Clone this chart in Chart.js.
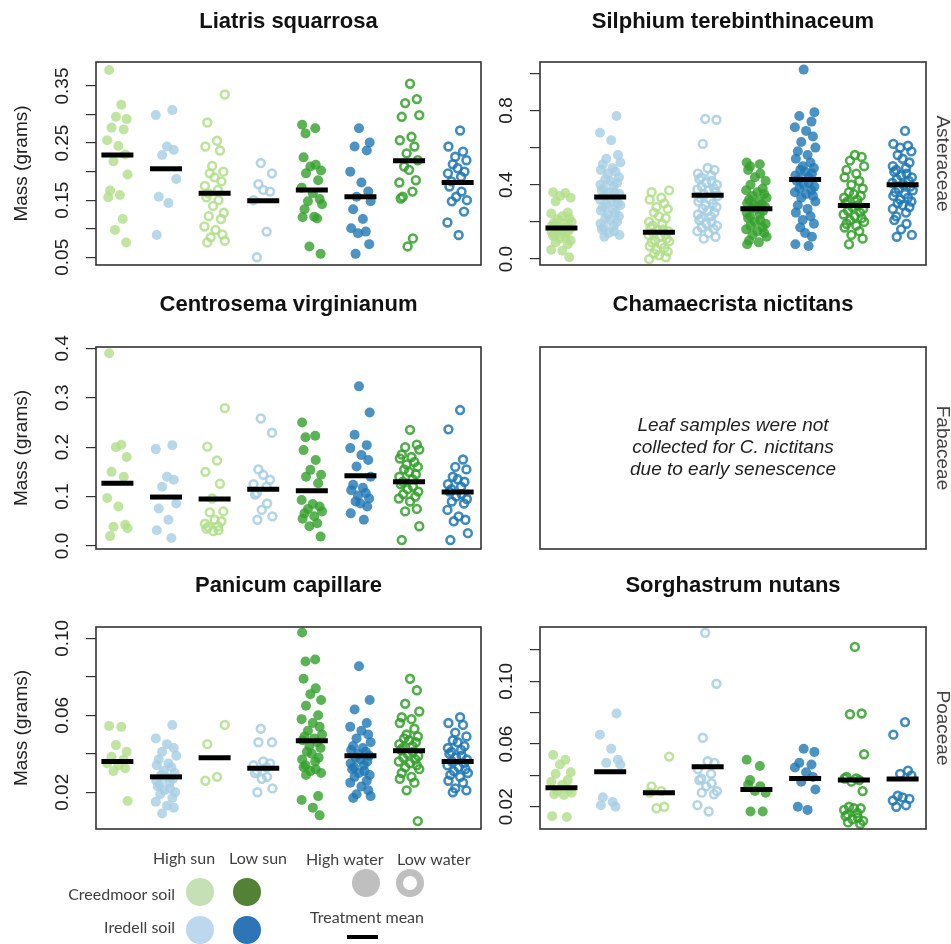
<!DOCTYPE html>
<html>
<head>
<meta charset="utf-8">
<script src="https://cdn.jsdelivr.net/npm/chart.js@4.4.1/dist/chart.umd.min.js"></script>
<style>
  body { margin: 0; background: #fff; width: 951px; height: 944px; position: relative; overflow: hidden; }
  canvas { position: absolute; left: 0; top: 0; }
</style>
</head>
<body>
<canvas id="legend" width="951" height="944"></canvas>
<script>
// treatment groups, in plotting order
const groupNames = [
  "Creedmoor, high sun, high water", "Iredell, high sun, high water",
  "Creedmoor, high sun, low water", "Iredell, high sun, low water",
  "Creedmoor, low sun, high water", "Iredell, low sun, high water",
  "Creedmoor, low sun, low water", "Iredell, low sun, low water"
];
const groupX = [1, 2, 3, 4, 5, 6, 7, 8];

// ---- Liatris squarrosa (Asteraceae) ----
const liatrisMass = [
  [0.378, 0.317, 0.296, 0.292, 0.277, 0.274, 0.255, 0.245, 0.23, 0.218, 0.195, 0.167, 0.159, 0.155, 0.117, 0.098, 0.076],
  [0.308, 0.299, 0.244, 0.238, 0.229, 0.187, 0.156, 0.145, 0.089],
  [0.335, 0.286, 0.254, 0.244, 0.237, 0.21, 0.2, 0.197, 0.19, 0.183, 0.175, 0.168, 0.162, 0.155, 0.15, 0.14, 0.128, 0.122, 0.117, 0.104, 0.098, 0.09, 0.085, 0.079, 0.076],
  [0.215, 0.197, 0.178, 0.168, 0.165, 0.15, 0.095, 0.05],
  [0.282, 0.276, 0.267, 0.225, 0.212, 0.209, 0.202, 0.197, 0.185, 0.172, 0.162, 0.152, 0.148, 0.143, 0.134, 0.121, 0.12, 0.118, 0.069, 0.056],
  [0.276, 0.251, 0.244, 0.237, 0.2, 0.181, 0.165, 0.156, 0.148, 0.134, 0.117, 0.101, 0.095, 0.092, 0.073, 0.056],
  [0.354, 0.327, 0.32, 0.299, 0.296, 0.261, 0.255, 0.244, 0.232, 0.22, 0.209, 0.203, 0.185, 0.181, 0.165, 0.156, 0.153, 0.083, 0.069],
  [0.272, 0.244, 0.235, 0.226, 0.22, 0.213, 0.206, 0.2, 0.197, 0.191, 0.183, 0.174, 0.165, 0.156, 0.15, 0.148, 0.13, 0.111, 0.089]
];
const liatrisMean = [0.229, 0.205, 0.162, 0.149, 0.168, 0.156, 0.219, 0.181];
const liatrisTicks = [0.05, 0.10, 0.15, 0.20, 0.25, 0.30, 0.35];
const liatrisTickLabels = ["0.05", "", "0.15", "", "0.25", "", "0.35"];

// ---- Silphium terebinthinaceum (Asteraceae) ----
const silphiumMass = [
  [0.36, 0.355, 0.34, 0.33, 0.31, 0.25, 0.245, 0.23, 0.22, 0.215, 0.2, 0.195, 0.19, 0.18, 0.175, 0.17, 0.165, 0.16, 0.155, 0.15, 0.145, 0.14, 0.13, 0.125, 0.12, 0.11, 0.1, 0.09, 0.08, 0.05, 0.045, 0.01],
  [0.77, 0.68, 0.64, 0.56, 0.54, 0.52, 0.51, 0.49, 0.48, 0.47, 0.46, 0.44, 0.43, 0.42, 0.41, 0.4, 0.39, 0.38, 0.37, 0.36, 0.355, 0.35, 0.34, 0.33, 0.32, 0.31, 0.3, 0.295, 0.29, 0.28, 0.27, 0.26, 0.25, 0.24, 0.23, 0.22, 0.21, 0.2, 0.19, 0.18, 0.17, 0.16, 0.15, 0.14, 0.13, 0.12],
  [0.37, 0.36, 0.33, 0.32, 0.3, 0.28, 0.27, 0.25, 0.23, 0.22, 0.2, 0.19, 0.18, 0.17, 0.16, 0.155, 0.15, 0.14, 0.135, 0.13, 0.12, 0.11, 0.1, 0.095, 0.09, 0.08, 0.07, 0.06, 0.05, 0.04, 0.03, 0.02, 0.01, 0.0],
  [0.755, 0.75, 0.62, 0.49, 0.48, 0.46, 0.45, 0.44, 0.43, 0.42, 0.41, 0.4, 0.39, 0.38, 0.375, 0.37, 0.36, 0.35, 0.34, 0.33, 0.32, 0.31, 0.3, 0.29, 0.28, 0.27, 0.26, 0.25, 0.24, 0.23, 0.22, 0.21, 0.2, 0.19, 0.18, 0.17, 0.16, 0.15, 0.14, 0.12, 0.11],
  [0.52, 0.51, 0.5, 0.48, 0.46, 0.44, 0.42, 0.4, 0.38, 0.37, 0.36, 0.35, 0.34, 0.33, 0.32, 0.31, 0.3, 0.295, 0.29, 0.28, 0.275, 0.27, 0.26, 0.25, 0.24, 0.23, 0.22, 0.21, 0.2, 0.19, 0.18, 0.17, 0.16, 0.15, 0.14, 0.13, 0.12, 0.1, 0.09, 0.08],
  [1.02, 0.79, 0.77, 0.74, 0.71, 0.69, 0.66, 0.63, 0.6, 0.58, 0.56, 0.54, 0.52, 0.5, 0.49, 0.48, 0.47, 0.46, 0.45, 0.44, 0.43, 0.42, 0.41, 0.4, 0.39, 0.38, 0.37, 0.36, 0.35, 0.34, 0.33, 0.31, 0.29, 0.27, 0.25, 0.23, 0.21, 0.19, 0.17, 0.14, 0.12, 0.08, 0.07],
  [0.56, 0.55, 0.53, 0.5, 0.48, 0.46, 0.44, 0.42, 0.4, 0.38, 0.36, 0.35, 0.34, 0.33, 0.32, 0.31, 0.3, 0.29, 0.28, 0.27, 0.26, 0.25, 0.24, 0.23, 0.22, 0.21, 0.2, 0.19, 0.18, 0.17, 0.15, 0.13, 0.11, 0.08],
  [0.69, 0.62, 0.61, 0.6, 0.58, 0.56, 0.54, 0.52, 0.5, 0.49, 0.48, 0.47, 0.46, 0.45, 0.44, 0.43, 0.42, 0.41, 0.4, 0.39, 0.38, 0.37, 0.36, 0.35, 0.34, 0.33, 0.32, 0.31, 0.3, 0.29, 0.28, 0.27, 0.25, 0.23, 0.21, 0.19, 0.16, 0.13, 0.12]
];
const silphiumMean = [0.167, 0.334, 0.145, 0.343, 0.271, 0.429, 0.289, 0.40];
const silphiumTicks = [0.0, 0.2, 0.4, 0.6, 0.8, 1.0];
const silphiumTickLabels = ["0.0", "", "0.4", "", "0.8", ""];

// ---- Centrosema virginianum (Fabaceae) ----
const centrosemaMass = [
  [0.39, 0.205, 0.2, 0.18, 0.15, 0.14, 0.097, 0.08, 0.043, 0.039, 0.036, 0.02],
  [0.204, 0.196, 0.14, 0.134, 0.12, 0.086, 0.076, 0.053, 0.032, 0.016],
  [0.279, 0.201, 0.173, 0.15, 0.126, 0.096, 0.07, 0.068, 0.053, 0.05, 0.045, 0.04, 0.039, 0.035, 0.032, 0.03],
  [0.258, 0.229, 0.155, 0.144, 0.134, 0.125, 0.12, 0.107, 0.104, 0.086, 0.073, 0.06, 0.053],
  [0.25, 0.223, 0.22, 0.194, 0.174, 0.154, 0.144, 0.14, 0.127, 0.093, 0.085, 0.08, 0.075, 0.07, 0.066, 0.06, 0.055, 0.046, 0.04, 0.019],
  [0.323, 0.27, 0.225, 0.204, 0.198, 0.184, 0.174, 0.161, 0.14, 0.124, 0.118, 0.113, 0.107, 0.102, 0.096, 0.09, 0.086, 0.08, 0.066, 0.053],
  [0.235, 0.205, 0.2, 0.195, 0.185, 0.18, 0.177, 0.17, 0.165, 0.16, 0.155, 0.15, 0.145, 0.14, 0.135, 0.13, 0.125, 0.12, 0.115, 0.11, 0.105, 0.1, 0.096, 0.09, 0.075, 0.07, 0.04, 0.012],
  [0.275, 0.236, 0.175, 0.16, 0.155, 0.14, 0.135, 0.13, 0.125, 0.12, 0.115, 0.11, 0.105, 0.1, 0.095, 0.09, 0.086, 0.073, 0.06, 0.053, 0.05, 0.026, 0.012]
];
const centrosemaMean = [0.127, 0.099, 0.095, 0.115, 0.112, 0.142, 0.13, 0.109];
const centrosemaTicks = [0.0, 0.1, 0.2, 0.3, 0.4];
const centrosemaTickLabels = ["0.0", "0.1", "0.2", "0.3", "0.4"];

// ---- Panicum capillare (Poaceae) ----
const panicumMass = [
  [0.0545, 0.054, 0.0445, 0.041, 0.0385, 0.037, 0.035, 0.034, 0.0325, 0.031, 0.0155],
  [0.055, 0.048, 0.045, 0.043, 0.041, 0.039, 0.037, 0.035, 0.034, 0.033, 0.031, 0.03, 0.029, 0.028, 0.027, 0.026, 0.025, 0.024, 0.023, 0.022, 0.021, 0.02, 0.019, 0.017, 0.015, 0.013, 0.012, 0.009],
  [0.055, 0.045, 0.028, 0.026],
  [0.053, 0.046, 0.046, 0.036, 0.035, 0.034, 0.033, 0.031, 0.03, 0.028, 0.027, 0.022, 0.02],
  [0.103, 0.089, 0.088, 0.079, 0.074, 0.071, 0.068, 0.065, 0.06, 0.058, 0.056, 0.054, 0.052, 0.05, 0.049, 0.048, 0.047, 0.046, 0.044, 0.043, 0.041, 0.04, 0.038, 0.037, 0.036, 0.034, 0.033, 0.032, 0.031, 0.03, 0.029, 0.018, 0.016, 0.012, 0.008],
  [0.0855, 0.068, 0.063, 0.056, 0.054, 0.052, 0.05, 0.048, 0.046, 0.044, 0.043, 0.042, 0.041, 0.04, 0.039, 0.038, 0.037, 0.036, 0.035, 0.034, 0.033, 0.032, 0.031, 0.03, 0.029, 0.028, 0.026, 0.025, 0.023, 0.021, 0.019, 0.018, 0.017],
  [0.079, 0.073, 0.066, 0.062, 0.059, 0.058, 0.056, 0.053, 0.05, 0.049, 0.048, 0.047, 0.046, 0.045, 0.044, 0.043, 0.042, 0.041, 0.04, 0.039, 0.038, 0.037, 0.036, 0.035, 0.034, 0.033, 0.032, 0.03, 0.028, 0.027, 0.025, 0.021, 0.005],
  [0.059, 0.056, 0.055, 0.051, 0.049, 0.047, 0.046, 0.044, 0.043, 0.042, 0.041, 0.04, 0.039, 0.038, 0.037, 0.036, 0.035, 0.034, 0.033, 0.032, 0.031, 0.03, 0.029, 0.028, 0.026, 0.025, 0.022, 0.021, 0.02]
];
const panicumMean = [0.036, 0.028, 0.038, 0.0325, 0.0468, 0.039, 0.0416, 0.036];
const panicumTicks = [0.02, 0.04, 0.06, 0.08, 0.10];
const panicumTickLabels = ["0.02", "", "0.06", "", "0.10"];

// ---- Sorghastrum nutans (Poaceae) ----
const sorghastrumMass = [
  [0.053, 0.05, 0.047, 0.042, 0.041, 0.037, 0.036, 0.034, 0.031, 0.03, 0.029, 0.028, 0.0275, 0.014, 0.0135],
  [0.0795, 0.066, 0.057, 0.05, 0.048, 0.047, 0.026, 0.023, 0.021, 0.02],
  [0.052, 0.033, 0.03, 0.029, 0.02, 0.019],
  [0.131, 0.0985, 0.064, 0.049, 0.048, 0.044, 0.041, 0.038, 0.037, 0.035, 0.033, 0.03, 0.029, 0.028, 0.021, 0.017],
  [0.05, 0.046, 0.037, 0.034, 0.033, 0.03, 0.029, 0.017, 0.017],
  [0.057, 0.055, 0.048, 0.047, 0.045, 0.042, 0.039, 0.036, 0.031, 0.02, 0.018],
  [0.122, 0.0795, 0.079, 0.0535, 0.039, 0.038, 0.038, 0.037, 0.036, 0.03, 0.02, 0.019, 0.019, 0.018, 0.016, 0.015, 0.014, 0.013, 0.012, 0.011, 0.01, 0.009],
  [0.074, 0.066, 0.043, 0.041, 0.04, 0.027, 0.026, 0.025, 0.024, 0.021, 0.02]
];
const sorghastrumMean = [0.0321, 0.0423, 0.029, 0.0455, 0.031, 0.038, 0.037, 0.0377];
const sorghastrumTicks = [0.02, 0.04, 0.06, 0.08, 0.10, 0.12];
const sorghastrumTickLabels = ["0.02", "", "0.06", "", "0.10", ""];

// look of the 8 treatments (colour + filled/hollow)
const groupStyle = [
  { rgb: "178,223,138", filled: true },  { rgb: "166,206,227", filled: true },
  { rgb: "178,223,138", filled: false }, { rgb: "166,206,227", filled: false },
  { rgb: "51,160,44", filled: true },    { rgb: "31,120,180", filled: true },
  { rgb: "51,160,44", filled: false },   { rgb: "31,120,180", filled: false }
];
// fixed horizontal spread (like stripchart jitter)
const jitter = [-0.17, 0.08, -0.03, 0.19, -0.12, 0.13, -0.21, 0.02, 0.16, -0.08, 0.21, -0.15, 0.05, -0.19, 0.11, -0.05, 0.18, -0.1, 0.0, 0.14, -0.2, 0.07, -0.13];

const FONT = "'Liberation Sans', Arial, sans-serif";

function makePanel(p) {
  const canvas = document.createElement("canvas");
  canvas.width = 951;
  canvas.height = 944;
  document.body.appendChild(canvas);

  const datasets = [];
  if (p.mass) {
    datasets.push({
      label: "Treatment mean",
      data: p.mean.map((m, i) => ({ x: groupX[i], y: m })),
      pointStyle: "line",
      pointRadius: 16,
      pointBorderWidth: 5,
      pointBorderColor: "#000",
      order: 0,
      clip: false
    });
    p.mass.forEach((vals, g) => {
      const s = groupStyle[g];
      datasets.push({
        label: groupNames[g],
        data: vals.map((v, i) => ({ x: groupX[g] + jitter[(i + g * 5) % jitter.length], y: v })),
        pointStyle: "circle",
        pointRadius: s.filled ? 5 : 3.9,
        pointBorderWidth: s.filled ? 0 : 2.6,
        pointBackgroundColor: s.filled ? `rgba(${s.rgb},0.8)` : "rgba(0,0,0,0)",
        pointBorderColor: `rgba(${s.rgb},0.85)`,
        order: 1,
        clip: false
      });
    });
  }

  const axisW = p.ticks ? 12 : 0;

  // box, titles, rotated tick labels
  const decor = {
    id: "decor",
    afterDraw(chart) {
      const { ctx, chartArea: a } = chart;
      const cy = (a.top + a.bottom) / 2;
      ctx.save();
      ctx.strokeStyle = "#333";
      ctx.lineWidth = 1.6;
      ctx.strokeRect(a.left, a.top, a.right - a.left, a.bottom - a.top);

      ctx.fillStyle = "#111";
      ctx.font = "bold 22px " + FONT;
      ctx.textAlign = "center";
      ctx.textBaseline = "alphabetic";
      ctx.fillText(p.title, (a.left + a.right) / 2, p.titleY);

      ctx.textBaseline = "middle";
      if (p.ticks) {
        ctx.font = "19px " + FONT;
        ctx.fillStyle = "#222";
        p.ticks.forEach((v, i) => {
          if (!p.tickLabels[i]) return;
          const y = chart.scales.y.getPixelForValue(v);
          ctx.save();
          ctx.translate(a.left - 33, y);
          ctx.rotate(-Math.PI / 2);
          ctx.fillText(p.tickLabels[i], 0, 0);
          ctx.restore();
        });
      }
      if (p.yTitle) {
        ctx.save();
        ctx.font = "19px " + FONT;
        ctx.fillStyle = "#222";
        ctx.translate(22, cy);
        ctx.rotate(-Math.PI / 2);
        ctx.fillText(p.yTitle, 0, 0);
        ctx.restore();
      }
      if (p.family) {
        ctx.save();
        ctx.font = "19px " + FONT;
        ctx.fillStyle = "#444";
        ctx.translate(942, cy);
        ctx.rotate(Math.PI / 2);
        ctx.fillText(p.family, 0, 0);
        ctx.restore();
      }
      if (p.note) {
        ctx.font = "italic 19px " + FONT;
        ctx.fillStyle = "#222";
        p.note.forEach((line, i) => {
          ctx.fillText(line, (a.left + a.right) / 2, cy - 22 + i * 21.7);
        });
      }
      ctx.restore();
    }
  };

  new Chart(canvas, {
    type: "scatter",
    data: { datasets },
    options: {
      responsive: false,
      animation: false,
      events: [],
      layout: {
        padding: { left: p.box[0] - axisW, top: p.box[1], right: 951 - p.box[2], bottom: 944 - p.box[3] }
      },
      plugins: { legend: { display: false }, tooltip: { enabled: false } },
      scales: {
        x: { type: "linear", display: false, min: 0.56, max: 8.48 },
        y: {
          type: "linear",
          display: !!p.ticks,
          min: p.yMin,
          max: p.yMax,
          afterFit: (s) => { s.width = axisW; },
          afterBuildTicks: (s) => { if (p.ticks) s.ticks = p.ticks.map(v => ({ value: v })); },
          ticks: { display: false },
          grid: { drawOnChartArea: false, drawTicks: true, tickLength: 10, color: "#333", lineWidth: 1.2 },
          border: { display: false }
        }
      }
    },
    plugins: [decor]
  });
}

makePanel({ title: "Liatris squarrosa", titleY: 28, box: [96, 62, 481, 265], yMin: 0.0365, yMax: 0.392,
  mass: liatrisMass, mean: liatrisMean, ticks: liatrisTicks, tickLabels: liatrisTickLabels, yTitle: "Mass (grams)" });
makePanel({ title: "Silphium terebinthinaceum", titleY: 28, box: [540, 62, 926, 265], yMin: -0.032, yMax: 1.061,
  mass: silphiumMass, mean: silphiumMean, ticks: silphiumTicks, tickLabels: silphiumTickLabels, family: "Asteraceae" });
makePanel({ title: "Centrosema virginianum", titleY: 311, box: [96, 347, 481, 549], yMin: -0.0061, yMax: 0.4026,
  mass: centrosemaMass, mean: centrosemaMean, ticks: centrosemaTicks, tickLabels: centrosemaTickLabels, yTitle: "Mass (grams)" });
makePanel({ title: "Chamaecrista nictitans", titleY: 311, box: [540, 347, 926, 549], yMin: 0, yMax: 1,
  family: "Fabaceae",
  note: ["Leaf samples were not", "collected for C. nictitans", "due to early senescence"] });
makePanel({ title: "Panicum capillare", titleY: 592, box: [96, 627, 481, 829], yMin: 0.0009, yMax: 0.1059,
  mass: panicumMass, mean: panicumMean, ticks: panicumTicks, tickLabels: panicumTickLabels, yTitle: "Mass (grams)" });
makePanel({ title: "Sorghastrum nutans", titleY: 592, box: [540, 627, 926, 829], yMin: 0.0058, yMax: 0.1347,
  mass: sorghastrumMass, mean: sorghastrumMean, ticks: sorghastrumTicks, tickLabels: sorghastrumTickLabels, family: "Poaceae" });

// ---- key (bottom left) ----
const lg = document.getElementById("legend").getContext("2d");
lg.font = "16px Lato, 'Open Sans', sans-serif";
lg.fillStyle = "#404040";
lg.textBaseline = "middle";
lg.textAlign = "left";
lg.fillText("High sun", 153, 859);
lg.fillText("Low sun", 229, 859);
lg.fillText("High water", 306, 860);
lg.fillText("Low water", 397, 860);
lg.textAlign = "right";
lg.fillText("Creedmoor soil", 175, 895);
lg.fillText("Iredell soil", 175, 928);
lg.textAlign = "center";
lg.fillText("Treatment mean", 367, 918);

function dot(x, y, r, color) {
  lg.beginPath();
  lg.arc(x, y, r, 0, Math.PI * 2);
  lg.fillStyle = color;
  lg.fill();
}
dot(200, 892, 14, "#c5e0b4");
dot(247, 892, 14, "#538135");
dot(200, 930, 14, "#bdd7ee");
dot(247, 930, 14, "#2e75b6");
dot(366, 883, 14, "#bfbfbf");
lg.beginPath();
lg.arc(410, 883, 10.5, 0, Math.PI * 2);
lg.strokeStyle = "#bfbfbf";
lg.lineWidth = 7;
lg.stroke();
lg.fillStyle = "#000";
lg.fillRect(347, 935, 31, 4);
</script>
</body>
</html>
